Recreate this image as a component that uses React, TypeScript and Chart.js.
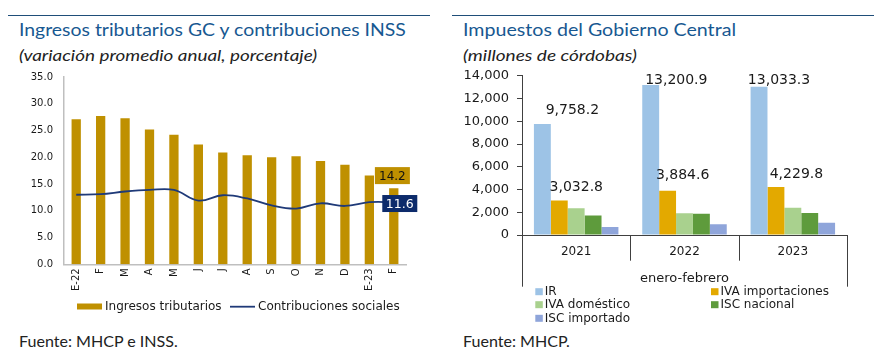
import React, { useEffect, useRef } from "react";
import { Chart, registerables } from "chart.js";

Chart.register(...registerables);

// ---------- Left chart data ----------
const monthLabels = ["E-22", "F", "M", "A", "M", "J", "J", "A", "S", "O", "N", "D", "E-23", "F"];
const ingresosTributarios = [27.1, 27.7, 27.3, 25.2, 24.2, 22.4, 20.9, 20.4, 20.0, 20.2, 19.3, 18.6, 16.6, 14.2];
const contribucionesSociales = [13.0, 13.1, 13.6, 13.9, 13.9, 11.9, 12.9, 12.3, 11.0, 10.4, 11.4, 10.9, 11.6, 11.6];
const leftSeriesNames = ["Ingresos tributarios", "Contribuciones sociales"];
const leftYTicks = [0, 5, 10, 15, 20, 25, 30, 35];

// ---------- Right chart data ----------
const yearLabels = ["2021", "2022", "2023"];
const groupLabel = "enero-febrero";
const rightSeriesNames = ["IR", "IVA importaciones", "IVA doméstico", "ISC nacional", "ISC importado"];
const irValues = [9758.2, 13200.9, 13033.3];
const ivaImportacionesValues = [3032.8, 3884.6, 4229.8];
const ivaDomesticoValues = [2350, 1910, 2390];
const iscNacionalValues = [1710, 1860, 1940];
const iscImportadoValues = [710, 940, 1080];
const rightYTicks = [0, 2000, 4000, 6000, 8000, 10000, 12000, 14000];

const TICK_FONT = "'DejaVu Sans', Verdana, sans-serif";

function fmtThousands(v: number, decimals: number): string {
  const neg = v < 0;
  const s = Math.abs(v).toFixed(decimals);
  const [intPart, dec] = s.split(".");
  const withCommas = intPart.replace(/\B(?=(\d{3})+(?!\d))/g, ",");
  return (neg ? "-" : "") + withCommas + (dec !== undefined ? "." + dec : "");
}

// ---------- plugins ----------
const customLegend = {
  id: "customLegend",
  afterDraw(chart: any, _args: any, opts: any) {
    const ctx = chart.ctx as CanvasRenderingContext2D;
    const items = opts.items || [];
    chart.data.datasets.forEach((ds: any, i: number) => {
      const it = items[i];
      if (!it) return;
      ctx.save();
      if (it.kind === "line") {
        ctx.strokeStyle = ds.borderColor;
        ctx.lineWidth = it.lineWidth || 2;
        ctx.beginPath();
        ctx.moveTo(it.x, it.y);
        ctx.lineTo(it.x + it.w, it.y);
        ctx.stroke();
      } else {
        ctx.fillStyle = ds.backgroundColor;
        ctx.fillRect(it.x, it.y - it.h / 2, it.w, it.h);
      }
      ctx.fillStyle = opts.color || "#000";
      ctx.font = opts.font;
      ctx.textAlign = "left";
      ctx.textBaseline = "middle";
      ctx.fillText(ds.label, it.x + it.w + (it.gap ?? 3), it.y + 0.5);
      ctx.restore();
    });
  },
};

const lastValueBoxes = {
  id: "lastValueBoxes",
  afterDatasetsDraw(chart: any, _args: any, opts: any) {
    const ctx = chart.ctx as CanvasRenderingContext2D;
    (opts.boxes || []).forEach((b: any) => {
      const meta = chart.getDatasetMeta(b.dataset);
      const idx = meta.data.length - 1;
      const el = meta.data[idx];
      const v = chart.data.datasets[b.dataset].data[idx];
      const cx = el.x + b.dx;
      const cy = el.y + b.dy;
      ctx.save();
      ctx.fillStyle = b.bg;
      ctx.fillRect(cx - b.w / 2, cy - b.h / 2, b.w, b.h);
      ctx.fillStyle = b.color;
      ctx.font = b.font;
      ctx.textAlign = "center";
      ctx.textBaseline = "middle";
      ctx.fillText(Number(v).toFixed(1), cx, cy + 1);
      ctx.restore();
    });
  },
};

const barValueLabels = {
  id: "barValueLabels",
  afterDatasetsDraw(chart: any, _args: any, opts: any) {
    const ctx = chart.ctx as CanvasRenderingContext2D;
    (opts.labels || []).forEach((l: any) => {
      const el = chart.getDatasetMeta(l.dataset).data[l.index];
      const v = chart.data.datasets[l.dataset].data[l.index];
      ctx.save();
      ctx.fillStyle = opts.color || "#000";
      ctx.font = opts.font;
      ctx.textAlign = "center";
      ctx.textBaseline = "middle";
      ctx.fillText(fmtThousands(Number(v), 1), el.x + l.dx, el.y + l.dy);
      ctx.restore();
    });
  },
};

const groupAxis = {
  id: "groupAxis",
  afterDraw(chart: any, _args: any, opts: any) {
    const ctx = chart.ctx as CanvasRenderingContext2D;
    const area = chart.chartArea;
    const n = chart.data.labels.length;
    const step = (area.right - area.left) / n;
    ctx.save();
    ctx.strokeStyle = opts.lineColor;
    ctx.lineWidth = 1;
    for (let i = 0; i <= n; i++) {
      const px = Math.round(area.left + i * step) + 0.5;
      const len = i === 0 || i === n ? opts.outerLen : opts.innerLen;
      ctx.beginPath();
      ctx.moveTo(px, area.bottom);
      ctx.lineTo(px, area.bottom + len);
      ctx.stroke();
    }
    ctx.fillStyle = opts.color;
    ctx.font = opts.font;
    ctx.textAlign = "center";
    ctx.textBaseline = "middle";
    ctx.fillText(opts.title, (area.left + area.right) / 2, area.bottom + opts.titleOffset);
    ctx.restore();
  },
};

function LeftChart() {
  const ref = useRef<HTMLCanvasElement>(null);
  useEffect(() => {
    if (!ref.current) return;
    const chart = new Chart(ref.current, {
      data: {
        labels: monthLabels,
        datasets: [
          {
            type: "bar",
            label: leftSeriesNames[0],
            data: ingresosTributarios,
            backgroundColor: "#BF9000",
            borderWidth: 0,
            barPercentage: 0.38,
            categoryPercentage: 1,
            order: 2,
          },
          {
            type: "line",
            label: leftSeriesNames[1],
            data: contribucionesSociales,
            borderColor: "#1F3A78",
            backgroundColor: "#1F3A78",
            borderWidth: 1.8,
            pointRadius: 0,
            tension: 0.4,
            order: 1,
          },
        ],
      } as any,
      options: {
        animation: false,
        responsive: false,
        maintainAspectRatio: false,
        layout: { padding: { left: 0, right: 34, top: 16.7, bottom: 26.7 } },
        scales: {
          x: {
            grid: { display: false, drawTicks: false },
            border: { display: true, color: "#BFBFBF", width: 1.5 },
            ticks: {
              autoSkip: false,
              minRotation: 90,
              maxRotation: 90,
              padding: 4,
              color: "#1a1a1a",
              font: { family: TICK_FONT, size: 10 },
            },
            afterFit(scale: any) {
              scale.height = 34;
            },
          },
          y: {
            min: 0,
            max: 35,
            afterBuildTicks(scale: any) {
              scale.ticks = leftYTicks.map((v) => ({ value: v }));
            },
            grid: { display: false, drawTicks: false },
            border: { display: true, color: "#BFBFBF", width: 1.5 },
            ticks: {
              padding: 11,
              color: "#1a1a1a",
              font: { family: TICK_FONT, size: 10 },
              callback: (v: any) => Number(v).toFixed(1),
            },
            afterFit(scale: any) {
              scale.width = 64;
            },
          },
        },
        plugins: {
          legend: { display: false },
          tooltip: { enabled: false },
          customLegend: {
            font: `12px ${TICK_FONT}`,
            color: "#1a1a1a",
            items: [
              { kind: "bar", x: 77, y: 246.5, w: 25, h: 6, gap: 3 },
              { kind: "line", x: 230, y: 246.7, w: 25, lineWidth: 1.8, gap: 3 },
            ],
          },
          lastValueBoxes: {
            boxes: [
              { dataset: 0, dx: -1.4, dy: -12.7, w: 35, h: 17, bg: "#BF9000", color: "#111", font: `12px ${TICK_FONT}` },
              { dataset: 1, dx: 6, dy: 1.3, w: 35, h: 17, bg: "#0D2B6B", color: "#fff", font: `12.5px ${TICK_FONT}` },
            ],
          },
        } as any,
      },
      plugins: [customLegend, lastValueBoxes],
    });
    return () => chart.destroy();
  }, []);
  return <canvas ref={ref} width={440} height={265} style={{ position: "absolute", left: 0, top: 60, width: 440, height: 265 }} />;
}

function RightChart() {
  const ref = useRef<HTMLCanvasElement>(null);
  useEffect(() => {
    if (!ref.current) return;
    const colors = ["#9DC3E6", "#E3A900", "#A9D18E", "#5E9B3C", "#8FA5DA"];
    const series = [irValues, ivaImportacionesValues, ivaDomesticoValues, iscNacionalValues, iscImportadoValues];
    const chart = new Chart(ref.current, {
      type: "bar",
      data: {
        labels: yearLabels,
        datasets: series.map((d, i) => ({
          label: rightSeriesNames[i],
          data: d,
          backgroundColor: colors[i],
          borderWidth: 0,
          barPercentage: 1,
          categoryPercentage: 0.78,
        })),
      },
      options: {
        animation: false,
        responsive: false,
        maintainAspectRatio: false,
        layout: { padding: { left: 0, right: 45, top: 11, bottom: 65 } },
        scales: {
          x: {
            grid: { display: false, drawTicks: false },
            border: { display: true, color: "#404040", width: 1 },
            ticks: {
              padding: 10,
              color: "#1a1a1a",
              font: { family: TICK_FONT, size: 12 },
            },
            afterFit(scale: any) {
              scale.height = 30;
            },
          },
          y: {
            min: 0,
            max: 14000,
            afterBuildTicks(scale: any) {
              scale.ticks = rightYTicks.map((v) => ({ value: v }));
            },
            grid: { display: true, drawOnChartArea: false, drawTicks: true, tickLength: 5, color: "#404040" },
            border: { display: true, color: "#404040", width: 1 },
            ticks: {
              padding: 8,
              color: "#1a1a1a",
              font: { family: TICK_FONT, size: 13 },
              callback: (v: any) => fmtThousands(Number(v), 0),
            },
            afterFit(scale: any) {
              scale.width = 76;
            },
          },
        },
        plugins: {
          legend: { display: false },
          tooltip: { enabled: false },
          barValueLabels: {
            font: `14px ${TICK_FONT}`,
            color: "#1a1a1a",
            labels: [
              { dataset: 0, index: 0, dx: 30, dy: -14 },
              { dataset: 1, index: 0, dx: 17, dy: -13 },
              { dataset: 0, index: 1, dx: 25.6, dy: -4.4 },
              { dataset: 1, index: 1, dx: 15, dy: -15.5 },
              { dataset: 0, index: 2, dx: 20, dy: -6.4 },
              { dataset: 1, index: 2, dx: 20.5, dy: -13 },
            ],
          },
          groupAxis: {
            lineColor: "#404040",
            innerLen: 25.7,
            outerLen: 51.7,
            title: groupLabel,
            titleOffset: 43.3,
            color: "#1a1a1a",
            font: `13px ${TICK_FONT}`,
          },
          customLegend: {
            font: `12px ${TICK_FONT}`,
            color: "#1a1a1a",
            items: [
              { kind: "bar", x: 89.3, y: 231.7, w: 7.5, h: 7, gap: 2 },
              { kind: "bar", x: 265, y: 231.7, w: 7.5, h: 7, gap: 2 },
              { kind: "bar", x: 89.3, y: 244.7, w: 7.5, h: 7, gap: 2 },
              { kind: "bar", x: 265, y: 244.7, w: 7.5, h: 7, gap: 2 },
              { kind: "bar", x: 89.3, y: 258.3, w: 7.5, h: 7, gap: 2 },
            ],
          },
        } as any,
      },
      plugins: [barValueLabels, groupAxis, customLegend],
    });
    return () => chart.destroy();
  }, []);
  return <canvas ref={ref} width={446} height={270} style={{ position: "absolute", left: 446, top: 60, width: 446, height: 270 }} />;
}

const titleFont = "Lato, 'Open Sans', sans-serif";

function Stretched(props: { left: number; top: number; sx: number; style: React.CSSProperties; children: React.ReactNode }) {
  return (
    <div
      style={{
        ...props.style,
        position: "absolute",
        left: props.left,
        top: props.top,
        transform: `scaleX(${props.sx})`,
        transformOrigin: "0 0",
        whiteSpace: "nowrap",
      }}
    >
      {props.children}
    </div>
  );
}

export default function App() {
  const titleStyle: React.CSSProperties = {
    fontFamily: titleFont,
    fontSize: 18,
    color: "#175891",
    lineHeight: "20px",
  };
  const subStyle: React.CSSProperties = {
    fontFamily: titleFont,
    fontSize: 16,
    fontStyle: "italic",
    color: "#222",
    lineHeight: "18px",
  };
  const srcStyle: React.CSSProperties = {
    fontFamily: titleFont,
    fontSize: 15,
    color: "#222",
    lineHeight: "18px",
  };
  return (
    <div style={{ position: "fixed", left: 0, top: 0, width: 892, height: 363, background: "#fff", overflow: "hidden" }}>
      <div style={{ position: "absolute", left: 8, top: 15, width: 422, height: 1, background: "#1F4E79" }} />
      <div style={{ position: "absolute", left: 452, top: 15, width: 422, height: 1, background: "#1F4E79" }} />
      <Stretched left={19} top={19} sx={1.078} style={titleStyle}>Ingresos tributarios GC y contribuciones INSS</Stretched>
      <Stretched left={19} top={46} sx={1.18} style={subStyle}>(variación promedio anual, porcentaje)</Stretched>
      <Stretched left={463} top={19} sx={1.09} style={titleStyle}>Impuestos del Gobierno Central</Stretched>
      <Stretched left={463} top={46} sx={1.19} style={subStyle}>(millones de córdobas)</Stretched>
      <LeftChart />
      <RightChart />
      <Stretched left={19} top={332} sx={1.07} style={srcStyle}>Fuente: MHCP e INSS.</Stretched>
      <Stretched left={463} top={332} sx={1.07} style={srcStyle}>Fuente: MHCP.</Stretched>
    </div>
  );
}
